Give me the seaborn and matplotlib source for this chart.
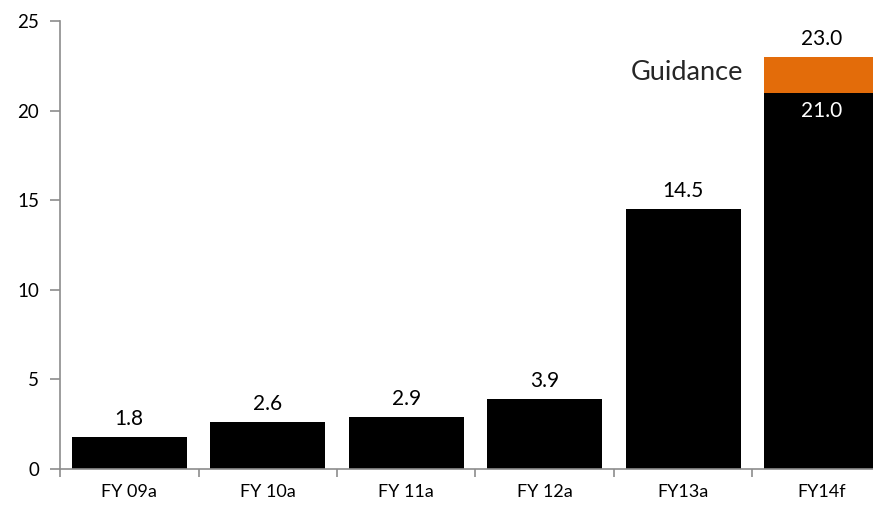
import matplotlib
matplotlib.use("Agg")
import matplotlib.pyplot as plt
import seaborn as sns
import pandas as pd
from matplotlib.ticker import FixedLocator

categories = ["FY 09a", "FY 10a", "FY 11a", "FY 12a", "FY13a", "FY14f"]
actual = [1.8, 2.6, 2.9, 3.9, 14.5, 21.0]
guidance = [0, 0, 0, 0, 0, 2.0]

df = pd.DataFrame({"cat": categories, "actual": actual, "guidance": guidance})
df["total"] = df["actual"] + df["guidance"]

sns.set_style("white")
plt.rcParams["font.family"] = ["Lato", "DejaVu Sans"]

fig = plt.figure(figsize=(8.73, 5.07), dpi=100)
W, H = 873, 507
ax = fig.add_axes([60 / W, 38 / H, 831 / W, 448 / H])

# orange total first, black actual on top -> stacked look
sns.barplot(data=df, x="cat", y="total", color="#E36C0A", width=0.83,
            saturation=1, linewidth=0, ax=ax)
sns.barplot(data=df, x="cat", y="actual", color="black", width=0.83,
            saturation=1, linewidth=0, ax=ax)

ax.set_xlim(-0.5, 5.5)
ax.set_ylim(0, 25)
ax.set_yticks([0, 5, 10, 15, 20, 25])
ax.set_xlabel("")
ax.set_ylabel("")

for s in ["top", "right"]:
    ax.spines[s].set_visible(False)
for s in ["left", "bottom"]:
    ax.spines[s].set_color("#8c8c8c")
    ax.spines[s].set_linewidth(1.2)

ax.tick_params(axis="y", length=7, width=1.2, color="#8c8c8c",
               labelsize=13.5, labelcolor="black", pad=8, left=True)
ax.tick_params(axis="x", which="major", length=0, labelsize=13,
               labelcolor="black", pad=11)
ax.xaxis.set_minor_locator(FixedLocator([i - 0.5 for i in range(len(categories) + 1)]))
ax.tick_params(axis="x", which="minor", length=6, width=1.2,
               color="#8c8c8c", bottom=True)

# value labels
for i, v in enumerate(actual):
    if guidance[i] > 0:
        ax.text(i, v - 0.45, f"{v:.1f}", ha="center", va="top",
                color="white", fontsize=15)
        tot = v + guidance[i]
        ax.text(i, tot + 0.45, f"{tot:.1f}", ha="center", va="bottom",
                color="black", fontsize=15)
    else:
        ax.text(i, v + 0.45, f"{v:.1f}", ha="center", va="bottom",
                color="black", fontsize=15)

ax.text(4.43, 22.1, "Guidance", ha="right", va="center",
        color="#262626", fontsize=19.5)

fig.savefig("out.png", dpi=100)
